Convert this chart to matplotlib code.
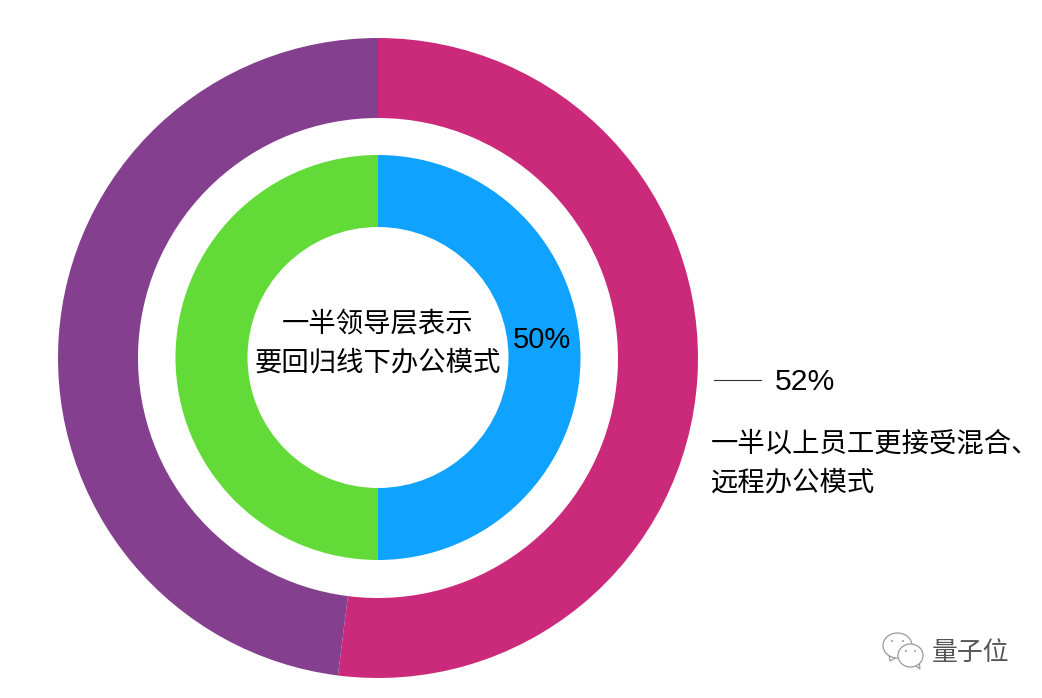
"""Nested donut: back-to-office vs hybrid share."""

import matplotlib
matplotlib.use('Agg')
import matplotlib.pyplot as plt
from matplotlib.patches import Ellipse, Polygon

plt.rcParams['font.family'] = ['Noto Sans CJK SC', 'DejaVu Sans']

# Share values, read clockwise from 12 o'clock
outer_values = [52, 48]
inner_values = [50, 50]
outer_colors = ['#CB2A7B', '#84408F']
inner_colors = ['#0FA3FF', '#62DA37']

center_label = '一半领导层表示\n要回归线下办公模式'
inner_pct = '50%'
outer_pct = '52%'
outer_label = '一半以上员工更接受混合、\n远程办公模式'
brand = '量子位'

W, H = 1042, 698
fig = plt.figure(figsize=(W / 100, H / 100), dpi=100)
ax = fig.add_axes([0, 0, 1, 1])

cx, cy = 378, 358
# ax y is inverted, so wedges go clockwise from the top when angles increase from -90
start = -90
ax.pie(outer_values, colors=outer_colors, startangle=start, center=(cx, cy), radius=320,
       frame=True, wedgeprops={'width': 80, 'linewidth': 0})
ax.pie(inner_values, colors=inner_colors, startangle=start, center=(cx, cy - 0.5), radius=202.5,
       frame=True, wedgeprops={'width': 72, 'linewidth': 0})
ax.set_xlim(0, W)
ax.set_ylim(H, 0)
ax.set_aspect('equal')
ax.axis('off')

ax.text(378, 343.5, center_label, ha='center', va='center', fontsize=19.7,
        color='black', linespacing=1.6)
ax.text(542, 340, inner_pct, ha='center', va='center', fontsize=20.9, color='black',
        family=['Liberation Sans', 'DejaVu Sans'])
ax.plot([714, 761], [379.5, 379.5], color='#333333', lw=0.8)
ax.text(775, 382, outer_pct, ha='left', va='center', fontsize=21.7, color='black',
        family=['Liberation Sans', 'DejaVu Sans'])
ax.text(711, 463.5, outer_label, ha='left', va='center', fontsize=19.7, color='black',
        linespacing=1.58)

# WeChat-style watermark, two speech bubbles
gray = '#9A9A9A'
ax.add_patch(Polygon([(889, 654), (890, 661), (897, 657)], fc='white', ec=gray, lw=0.9))
ax.add_patch(Ellipse((897.5, 645.5), 29, 25, fc='white', ec=gray, lw=0.9))
ax.add_patch(Polygon([(913, 664), (920, 669), (919, 661)], fc='white', ec=gray, lw=0.9))
ax.add_patch(Ellipse((910.5, 655.5), 25, 23, fc='white', ec=gray, lw=0.9))
for dx, dy in [(892, 641), (903, 641), (906, 651), (915, 651)]:
    ax.add_patch(Ellipse((dx, dy), 2, 2, fc=gray, ec='none'))
ax.text(932, 652, brand, ha='left', va='center', fontsize=18.6, color='#555555',
        fontweight='light')

fig.savefig('out.png', dpi=100)
